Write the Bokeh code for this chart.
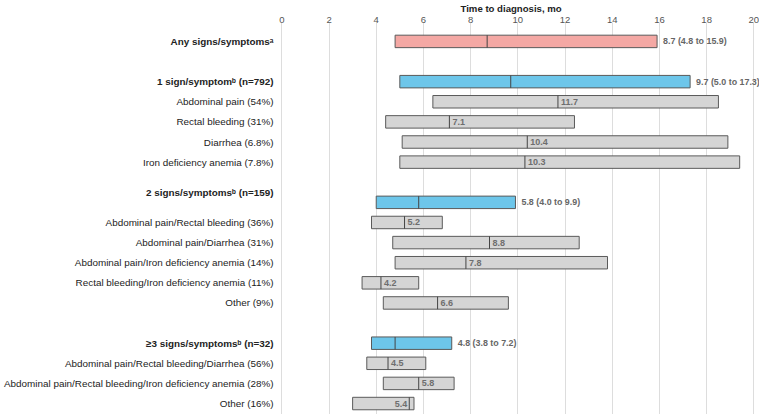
from bokeh.plotting import figure
from bokeh.models import Range1d, FixedTicker, ColumnDataSource
from bokeh.core.properties import value
from bokeh.embed import file_html
from bokeh.resources import INLINE

labels = [
    "Any signs/symptoms\u1d43",
    "1 sign/symptom\u1d47 (n=792)",
    "Abdominal pain (54%)",
    "Rectal bleeding (31%)",
    "Diarrhea (6.8%)",
    "Iron deficiency anemia (7.8%)",
    "2 signs/symptoms\u1d47 (n=159)",
    "Abdominal pain/Rectal bleeding (36%)",
    "Abdominal pain/Diarrhea (31%)",
    "Abdominal pain/Iron deficiency anemia (14%)",
    "Rectal bleeding/Iron deficiency anemia (11%)",
    "Other (9%)",
    "\u22653 signs/symptoms\u1d47 (n=32)",
    "Abdominal pain/Rectal bleeding/Diarrhea (56%)",
    "Abdominal pain/Rectal bleeding/Iron deficiency anemia (28%)",
    "Other (16%)",
]
kinds = ["any", "group", "sub", "sub", "sub", "sub",
         "group", "sub", "sub", "sub", "sub", "sub",
         "group", "sub", "sub", "sub"]
rows = [0, 2, 3, 4, 5, 6, 8, 9, 10, 11, 12, 13, 15, 16, 17, 18]
medians = [8.7, 9.7, 11.7, 7.1, 10.4, 10.3, 5.8, 5.2, 8.8, 7.8, 4.2, 6.6, 4.8, 4.5, 5.8, 5.4]
lows = [4.8, 5.0, 6.4, 4.4, 5.1, 5.0, 4.0, 3.8, 4.7, 4.8, 3.4, 4.3, 3.8, 3.6, 4.3, 3.0]
highs = [15.9, 17.3, 18.5, 12.4, 18.9, 19.4, 9.9, 6.8, 12.6, 13.8, 5.8, 9.6, 7.2, 6.1, 7.3, 5.6]
x_ticks = [0, 2, 4, 6, 8, 10, 12, 14, 16, 18, 20]

colors = {"any": "#f4a8a4", "group": "#6dc6ea", "sub": "#d5d5d5"}
FONT = "Liberation Sans"

p = figure(width=759, height=414, output_backend="svg", toolbar_location=None,
           x_axis_location="above", y_axis_location=None,
           x_range=Range1d(-11.92, 20.24), y_range=Range1d(18.545, -0.94),
           min_border_left=0, min_border_right=0, min_border_bottom=0, min_border_top=0,
           title="Time to diagnosis, mo")
p.outline_line_color = None
p.background_fill_color = "white"
p.border_fill_color = "white"
p.title.align = "left"
p.title.offset = 460
p.title.text_font = FONT
p.title.text_font_size = "9.6px"
p.title.text_font_style = "bold"
p.title.text_color = "#222222"
p.title.standoff = 0

ax = p.xaxis[0]
ax.ticker = FixedTicker(ticks=x_ticks)
ax.axis_line_color = None
ax.major_tick_line_color = None
ax.minor_tick_line_color = None
ax.major_tick_out = 0
ax.major_tick_in = 0
ax.major_label_text_font = FONT
ax.major_label_text_font_size = "9.5px"
ax.major_label_text_color = "#555555"
ax.major_label_standoff = 0
p.xgrid.ticker = FixedTicker(ticks=x_ticks)
p.xgrid.grid_line_color = "#dddddd"
p.xgrid.grid_line_width = 1
p.ygrid.grid_line_color = None

src = ColumnDataSource(dict(
    y=rows, med=medians, lo=lows, hi=highs, label=labels,
    fill=[colors[k] for k in kinds],
    y0=[r - 0.31 for r in rows], y1=[r + 0.31 for r in rows],
))
p.hbar(y="y", left="lo", right="hi", height=0.62, fill_color="fill",
       line_color="#5a5a5a", line_width=1, source=src)
p.segment(x0="med", x1="med", y0="y0", y1="y1", line_color="#444444",
          line_width=1, source=src)

# left labels
for lab, k, r in zip(labels, kinds, rows):
    yoff = -10 if lab.startswith("2 signs") else 0
    p.text(x=[-0.35], y=[r], text=[lab], text_align="right", text_baseline="middle",
           text_font=value(FONT), text_font_size="9.9px",
           text_font_style="bold" if k != "sub" else "normal",
           text_color="#222222", y_offset=yoff)

# value labels
for k, r, m, lo, hi in zip(kinds, rows, medians, lows, highs):
    if k == "sub":
        if hi - m < 1.0:
            p.text(x=[m], y=[r], text=[f"{m:.1f}"], text_align="right", text_baseline="middle",
                   x_offset=-2, text_font=value(FONT), text_font_size="9px",
                   text_font_style="bold", text_color="#6e6e6e")
        else:
            p.text(x=[m], y=[r], text=[f"{m:.1f}"], text_align="left", text_baseline="middle",
                   x_offset=3, text_font=value(FONT), text_font_size="9px",
                   text_font_style="bold", text_color="#6e6e6e")
    else:
        p.text(x=[hi], y=[r], text=[f"{m:.1f} ({lo:.1f} to {hi:.1f})"], text_align="left",
               text_baseline="middle", x_offset=6, text_font=value(FONT),
               text_font_size="8.9px", text_font_style="bold", text_color="#666666")

open("out.html", "w").write(file_html(p, INLINE))
